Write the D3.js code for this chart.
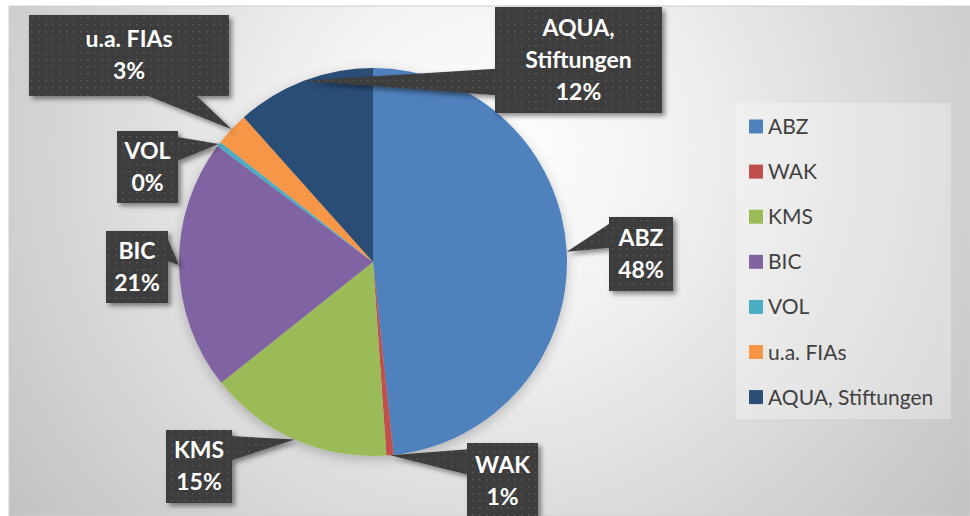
<!DOCTYPE html>
<html>
<head>
<meta charset="utf-8">
<script src="https://cdn.jsdelivr.net/npm/d3@7"></script>
<style>
  body { margin: 0; background: #fff; }
  svg { display: block; }
</style>
</head>
<body>
<svg id="drawing_region"></svg>
<script>
// data
const categories = ["ABZ", "WAK", "KMS", "BIC", "VOL", "u.a. FIAs", "AQUA, Stiftungen"];
const values = [48.3, 0.6, 15.4, 20.9, 0.4, 2.8, 11.6];
const colors = ["#4f81bd", "#c0504d", "#9bbb59", "#8064a2", "#4bacc6", "#f79646", "#2c4d75"];

// callout boxes placed by hand in the original: [x, y, w, h]
const labelBoxes = [
    [609, 217, 64, 74],
    [467, 443, 71, 76],
    [166, 430, 66, 73],
    [106, 231, 62, 72],
    [117, 131, 61, 72],
    [29, 15, 200, 81],
    [495, 7, 167, 106]
];

const config = {
    width: 970,
    height: 516,
    cx: 373,
    cy: 262,
    radius: 194,
    font: "Lato, 'Open Sans', sans-serif"
};

const svg = d3.select('#drawing_region')
    .attr('width', config.width)
    .attr('height', config.height);

const defs = svg.append('defs');

const grad = defs.append('radialGradient')
    .attr('id', 'bg')
    .attr('gradientUnits', 'userSpaceOnUse')
    .attr('cx', 490).attr('cy', 150).attr('r', 600);
grad.append('stop').attr('offset', '0').attr('stop-color', '#ffffff');
grad.append('stop').attr('offset', '0.3').attr('stop-color', '#f2f2f2');
grad.append('stop').attr('offset', '1').attr('stop-color', '#c2c2c2');

const pat = defs.append('pattern')
    .attr('id', 'dots')
    .attr('patternUnits', 'userSpaceOnUse')
    .attr('width', 7).attr('height', 7);
pat.append('rect').attr('width', 7).attr('height', 7).attr('fill', '#3e3e3e');
pat.append('rect').attr('x', 3).attr('y', 3).attr('width', 1.5).attr('height', 1.5).attr('fill', '#5a5a5a');

defs.append('filter').attr('id', 'shadow')
    .attr('x', '-20%').attr('y', '-20%').attr('width', '150%').attr('height', '150%')
    .append('feDropShadow')
    .attr('dx', 3).attr('dy', 3).attr('stdDeviation', 2.5)
    .attr('flood-color', '#000').attr('flood-opacity', 0.45);

defs.append('filter').attr('id', 'pieshadow')
    .attr('x', '-20%').attr('y', '-20%').attr('width', '140%').attr('height', '140%')
    .append('feDropShadow')
    .attr('dx', 0).attr('dy', 4).attr('stdDeviation', 6)
    .attr('flood-color', '#000').attr('flood-opacity', 0.22);

// chart area
svg.append('rect')
    .attr('x', 9).attr('y', 6)
    .attr('width', config.width - 9).attr('height', config.height - 6)
    .attr('fill', 'url(#bg)')
    .attr('stroke', '#d0d0d0')
    .attr('stroke-width', 1);

// pie
const total = d3.sum(values);
const pie = d3.pie().sort(null).value(d => d.value);
const arcs = pie(categories.map((c, i) => ({ name: c, value: values[i], color: colors[i] })));

const arc = d3.arc().innerRadius(0).outerRadius(config.radius);
const edge = d3.arc().innerRadius(config.radius).outerRadius(config.radius);

const chart = svg.append('g')
    .attr('transform', `translate(${config.cx}, ${config.cy})`);

chart.append('g')
    .attr('filter', 'url(#pieshadow)')
    .selectAll('path')
    .data(arcs)
    .enter()
    .append('path')
    .attr('d', arc)
    .attr('fill', d => d.data.color);

// callouts
const callouts = svg.append('g');

arcs.forEach((d, i) => {
    const [bx, by, bw, bh] = labelBoxes[i];
    const c = edge.centroid(d);
    const tx = c[0] + config.cx, ty = c[1] + config.cy;
    const mx = bx + bw / 2, my = by + bh / 2;
    const dx = (tx - mx) / bw, dy = (ty - my) / bh;

    let wedge;
    if (Math.abs(dx) > Math.abs(dy)) {
        const y1 = dy < 0 ? by + bh / 12 : by + bh * 7 / 12;
        const y2 = dy < 0 ? by + bh * 5 / 12 : by + bh * 10 / 12;
        const ex = dx < 0 ? bx + 1 : bx + bw - 1;
        wedge = `M${ex},${y1}L${tx},${ty}L${ex},${y2}Z`;
    } else {
        const x1 = dx < 0 ? bx + bw / 12 : bx + bw * 7 / 12;
        const x2 = dx < 0 ? bx + bw * 5 / 12 : bx + bw * 10 / 12;
        const ey = dy < 0 ? by + 1 : by + bh - 1;
        wedge = `M${x1},${ey}L${tx},${ty}L${x2},${ey}Z`;
    }

    const g = callouts.append('g').attr('filter', 'url(#shadow)');
    g.append('path').attr('d', wedge).attr('fill', 'url(#dots)');
    g.append('rect')
        .attr('x', bx).attr('y', by)
        .attr('width', bw).attr('height', bh)
        .attr('fill', 'url(#dots)');

    const lines = d.data.name.split(', ');
    lines.forEach((l, k) => { if (k < lines.length - 1) lines[k] = l + ','; });
    lines.push(Math.round(d.data.value / total * 100) + '%');

    const lh = 32, cap = 15;
    lines.forEach((l, k) => {
        callouts.append('text')
            .attr('x', mx)
            .attr('y', my - (lines.length - 1) * lh / 2 + k * lh + cap / 2)
            .attr('text-anchor', 'middle')
            .attr('font-family', config.font)
            .attr('font-weight', 'bold')
            .attr('font-size', '23px')
            .attr('fill', '#ffffff')
            .text(l);
    });
});

// legend
const legend = svg.append('g');
legend.append('rect')
    .attr('x', 736).attr('y', 103)
    .attr('width', 215).attr('height', 316)
    .attr('fill', '#ffffff').attr('fill-opacity', 0.3);

const item = legend.selectAll('g.item')
    .data(categories)
    .enter()
    .append('g')
    .attr('transform', (d, i) => `translate(749, ${126.5 + i * 45.1})`);

item.append('rect')
    .attr('x', 0).attr('y', -7)
    .attr('width', 14).attr('height', 14)
    .attr('fill', (d, i) => colors[i]);

item.append('text')
    .attr('x', 19).attr('y', 0)
    .attr('dy', '0.36em')
    .attr('font-family', config.font)
    .attr('font-size', '21px')
    .attr('fill', '#404040')
    .text(d => d);
</script>
</body>
</html>
